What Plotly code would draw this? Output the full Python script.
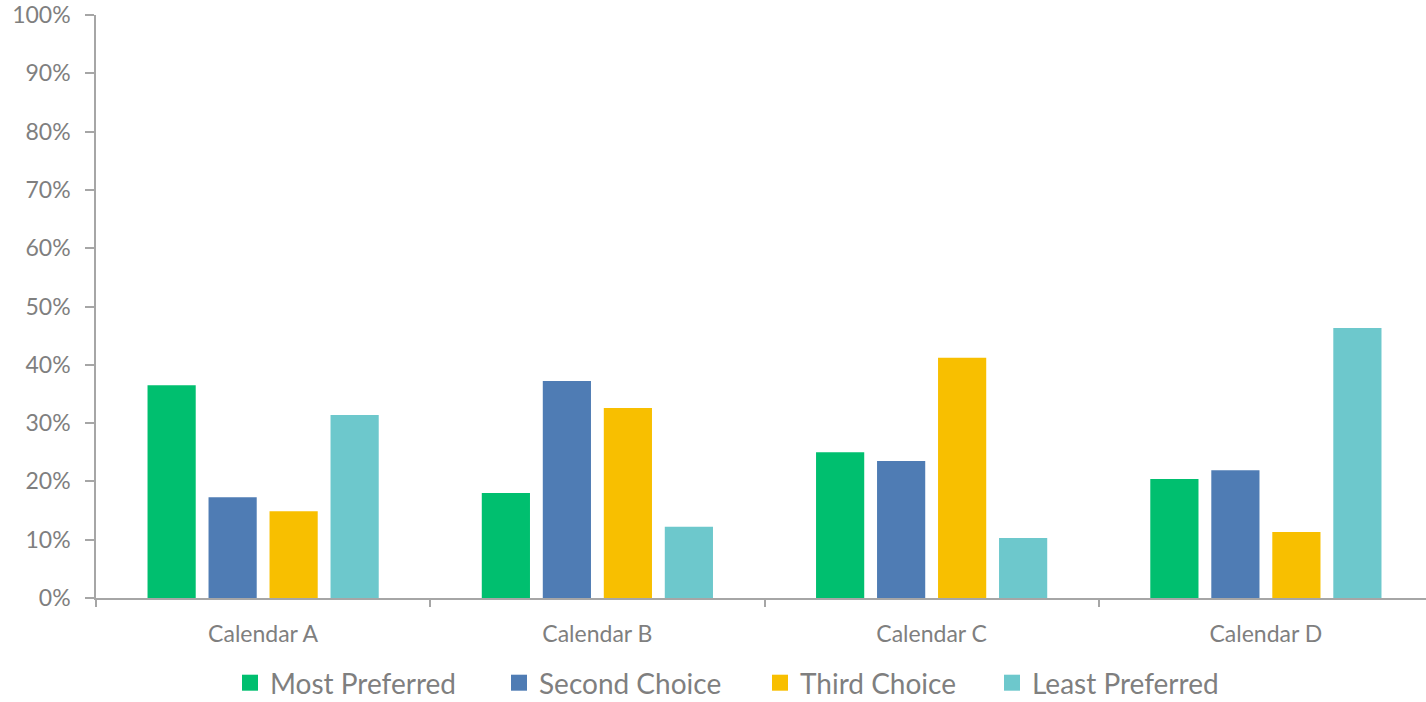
import plotly.graph_objects as go

categories = ["Calendar A", "Calendar B", "Calendar C", "Calendar D"]
most_preferred = [0.365, 0.180, 0.250, 0.204]
second_choice = [0.173, 0.372, 0.235, 0.219]
third_choice = [0.149, 0.326, 0.412, 0.113]
least_preferred = [0.314, 0.122, 0.103, 0.463]
series_names = ["Most Preferred", "Second Choice", "Third Choice", "Least Preferred"]
colors = ["#00BF6F", "#4F7CB4", "#F8BF00", "#6DC8CC"]
y_ticks = [i / 10 for i in range(11)]

W, H = 1426, 702
font_family = "Lato, 'Open Sans', sans-serif"
grey = "#7f7f7f"
axis_col = "#a6a6a6"

# legend entry anchor positions (left edge of each legend box, container px)
legend_left_px = [230, 499, 760, 992]
legend_keys = ["legend", "legend2", "legend3", "legend4"]

fig = go.Figure()
series = [most_preferred, second_choice, third_choice, least_preferred]
for i, (name, vals, col) in enumerate(zip(series_names, series, colors)):
    fig.add_trace(go.Bar(x=categories, y=vals, name=name, legendgroup=name, showlegend=False,
                         marker=dict(color=col, line=dict(width=0))))
    # legend swatch (square marker) for this series
    fig.add_trace(go.Scatter(x=[None], y=[None], mode="markers", name=name, legendgroup=name,
                             legend=legend_keys[i], showlegend=True,
                             marker=dict(symbol="square", size=16, color=col)))

layout_legends = {}
for i, key in enumerate(legend_keys):
    layout_legends[key] = dict(orientation="h", xref="container", yref="container",
                               x=legend_left_px[i] / W, xanchor="left",
                               y=19 / H, yanchor="middle", font=dict(size=28, color=grey),
                               itemsizing="trace", bgcolor="rgba(0,0,0,0)", borderwidth=0,
                               tracegroupgap=0)

fig.update_layout(
    width=W, height=H,
    margin=dict(l=96, r=0, t=15, b=104),
    plot_bgcolor="white", paper_bgcolor="white",
    barmode="group", bargap=0.27, bargroupgap=0.21,
    font=dict(family=font_family, color=grey),
    showlegend=True,
    **layout_legends,
)
fig.update_yaxes(range=[0, 1], tickvals=y_ticks, tickformat=".0%", showgrid=False,
                 showline=True, linecolor=axis_col, linewidth=1.5, ticks="outside",
                 ticklen=9, tickcolor=axis_col, tickwidth=1.5, tickfont=dict(size=23, color=grey),
                 ticklabelstandoff=10, ticklabeloverflow="allow", zeroline=False)
fig.update_xaxes(range=[-0.5, 3.479], showline=True, linecolor=axis_col, linewidth=1.5,
                 ticks="outside", tickson="boundaries", ticklen=7, tickcolor=axis_col, tickwidth=1.5,
                 tickfont=dict(size=23, color=grey), ticklabelstandoff=15)

fig.write_html("out.html", config={"displayModeBar": False},
               post_script="document.body.style.margin='0';document.body.style.overflow='hidden';")
